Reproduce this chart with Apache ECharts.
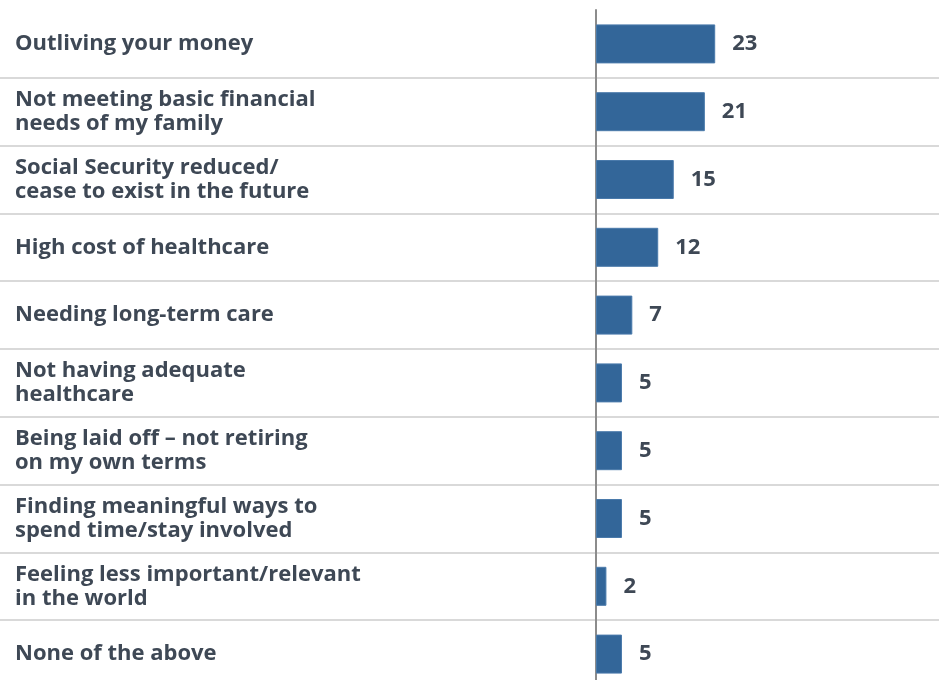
<!DOCTYPE html>
<html>
<head>
<meta charset="utf-8">
<script src="https://cdn.jsdelivr.net/npm/echarts@6/dist/echarts.min.js"></script>
<style>
  html, body { margin: 0; padding: 0; background: #ffffff; }
  #chart { width: 939px; height: 680px; }
</style>
</head>
<body>
<div id="chart"></div>
<script>
// Retirement concerns, share of respondents (%)
const categories = [
  'Outliving your money',
  'Not meeting basic financial\nneeds of my family',
  'Social Security reduced/\ncease to exist in the future',
  'High cost of healthcare',
  'Needing long-term care',
  'Not having adequate\nhealthcare',
  'Being laid off \u2013 not retiring\non my own terms',
  'Finding meaningful ways to\nspend time/stay involved',
  'Feeling less important/relevant\nin the world',
  'None of the above'
];
const values = [23, 21, 15, 12, 7, 5, 5, 5, 2, 5];

const textColor = '#3e4855';
const fontFamily = '"Open Sans", sans-serif';

const chart = echarts.init(document.getElementById('chart'), null, { renderer: 'canvas' });
chart.setOption({
  animation: false,
  grid: {
    left: 0, top: 10, width: 939, height: 678,
    containLabel: false,
    outerBoundsMode: 'none'
  },
  xAxis: {
    type: 'value',
    min: -115.06,
    max: 66.2,
    show: false,
    splitLine: { show: false }
  },
  yAxis: {
    type: 'category',
    inverse: true,
    data: categories,
    axisLine: { show: true, onZero: true, lineStyle: { color: '#8c8c8c', width: 2 } },
    axisTick: { show: false },
    splitLine: {
      show: true,
      // row separators only between rows, not above the first one
      interval: function (index) { return index > 0; },
      lineStyle: { color: '#d9d9d9', width: 2 }
    },
    axisLabel: {
      align: 'left',
      margin: -15,
      color: textColor,
      fontFamily: fontFamily,
      fontWeight: 'bold',
      fontSize: 22,
      lineHeight: 24
    }
  },
  series: [{
    type: 'bar',
    data: values,
    barWidth: 39,
    itemStyle: { color: '#336699', borderColor: '#4a7aab', borderWidth: 1 },
    label: {
      show: true,
      position: 'right',
      distance: 17,
      color: textColor,
      fontFamily: fontFamily,
      fontWeight: 'bold',
      fontSize: 22
    }
  }]
});
</script>
</body>
</html>
